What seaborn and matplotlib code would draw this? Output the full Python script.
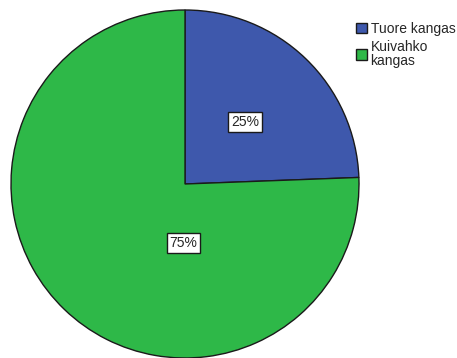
import matplotlib
matplotlib.use("Agg")
import matplotlib.pyplot as plt
import matplotlib.patches as mpatches
import seaborn as sns

# Data
categories = ["Tuore kangas", "Kuivahko\nkangas"]
shares = [24.4, 75.6]
pct_labels = ["25%", "75%"]
colors = ["#3e58ac", "#2eb848"]

sns.set_style("white")
plt.rcParams["font.family"] = ["Liberation Sans", "DejaVu Sans"]

fig = plt.figure(figsize=(4.57, 3.58), dpi=100)
ax = fig.add_axes([11 / 457, 0.0, 348 / 457, 348 / 358])

wedges, _ = ax.pie(shares, colors=colors, startangle=90, counterclock=False,
                   wedgeprops=dict(edgecolor="#1a1a1a", linewidth=1.0))
ax.set_xlim(-1, 1)
ax.set_ylim(-1, 1)
ax.set_aspect("equal")
ax.axis("off")

# percentage labels (SPSS-like placement)
label_pos = [(0.345, 0.356), (-0.01, -0.34)]
for (x, y), txt in zip(label_pos, pct_labels):
    ax.text(x, y, txt, ha="center", va="center", fontsize=10,
            bbox=dict(boxstyle="square,pad=0.2", fc="white", ec="#1a1a1a", lw=1.0))

handles = [mpatches.Patch(facecolor=c, edgecolor="#1a1a1a", linewidth=1.0) for c in colors]
leg = fig.legend(handles, categories, loc="upper left", bbox_to_anchor=(356 / 457, 1 - 22 / 358),
                 frameon=False, fontsize=10, handlelength=0.8, handleheight=0.8,
                 handletextpad=0.25, labelspacing=0.3, borderpad=0, borderaxespad=0)
for t in leg.get_texts():
    t.set_linespacing(0.95)

fig.savefig("out.png", dpi=100)
